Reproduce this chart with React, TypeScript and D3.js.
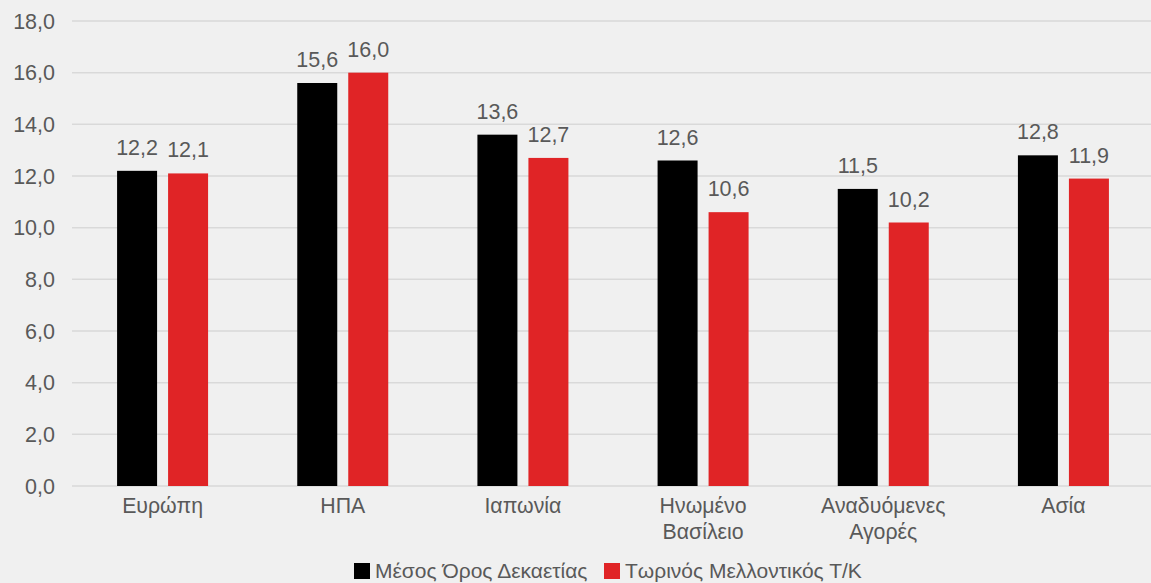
import React from "react";
import * as d3 from "d3";

const categories: string[][] = [
  ["Ευρώπη"],
  ["ΗΠΑ"],
  ["Ιαπωνία"],
  ["Ηνωμένο", "Βασίλειο"],
  ["Αναδυόμενες", "Αγορές"],
  ["Ασία"],
];
const decadeAvg = [12.2, 15.6, 13.6, 12.6, 11.5, 12.8];
const currentFwd = [12.1, 16.0, 12.7, 10.6, 10.2, 11.9];
const seriesNames = ["Μέσος Όρος Δεκαετίας", "Τωρινός Μελλοντικός Τ/Κ"];
const yTicks = [0, 2, 4, 6, 8, 10, 12, 14, 16, 18];

const W = 1151;
const H = 583;
const BG = "#f0f0f0";
const GRID = "#d9d9d9";
const TXT = "#595959";
const COLORS = ["#000000", "#e02426"];
const FONT = "'Liberation Sans', Arial, Helvetica, sans-serif";

const fmt = (v: number) => v.toFixed(1).replace(".", ",");

export default function App() {
  React.useEffect(() => {
    document.body.style.margin = "0";
  }, []);

  const y = d3.scaleLinear().domain([0, 18]).range([486, 21]);
  const x = d3
    .scaleBand<number>()
    .domain(d3.range(categories.length))
    .range([72.5, 1153.5])
    .paddingInner(0)
    .paddingOuter(0);
  const barW = 40;
  const gap = 11;
  const series = [decadeAvg, currentFwd];

  return (
    <svg width={W} height={H} style={{ display: "block", background: BG }} fontFamily={FONT}>
      <rect x={0} y={0} width={W} height={H} fill={BG} />
      {yTicks.map((t) => (
        <g key={t}>
          <line x1={72} x2={W} y1={y(t)} y2={y(t)} stroke={GRID} strokeWidth={1.5} />
          <text x={55} y={y(t)} dy="0.36em" textAnchor="end" fontSize={21.5} fill={TXT}>
            {fmt(t)}
          </text>
        </g>
      ))}
      {series.map((vals, si) =>
        vals.map((v, i) => {
          const cx = (x(i) as number) + x.bandwidth() / 2;
          const bx = si === 0 ? cx - gap / 2 - barW : cx + gap / 2;
          return (
            <g key={`${si}-${i}`}>
              <rect x={bx} y={y(v)} width={barW} height={y(0) - y(v)} fill={COLORS[si]} />
              <text
                x={bx + barW / 2}
                y={y(v) - 16}
                textAnchor="middle"
                fontSize={21.5}
                fill={TXT}
              >
                {fmt(v)}
              </text>
            </g>
          );
        })
      )}
      {categories.map((lines, i) => {
        const cx = (x(i) as number) + x.bandwidth() / 2;
        return (
          <text key={i} x={cx} y={513} textAnchor="middle" fontSize={21.3} fill={TXT}>
            {lines.map((l, li) => (
              <tspan key={li} x={cx} dy={li === 0 ? 0 : 25.5}>
                {l}
              </tspan>
            ))}
          </text>
        );
      })}
      <g>
        <rect x={354} y={563} width={16} height={16} fill={COLORS[0]} />
        <text x={375} y={578} fontSize={21} fill={TXT}>
          {seriesNames[0]}
        </text>
        <rect x={604} y={563} width={16} height={16} fill={COLORS[1]} />
        <text x={625} y={578} fontSize={21} fill={TXT}>
          {seriesNames[1]}
        </text>
      </g>
    </svg>
  );
}
